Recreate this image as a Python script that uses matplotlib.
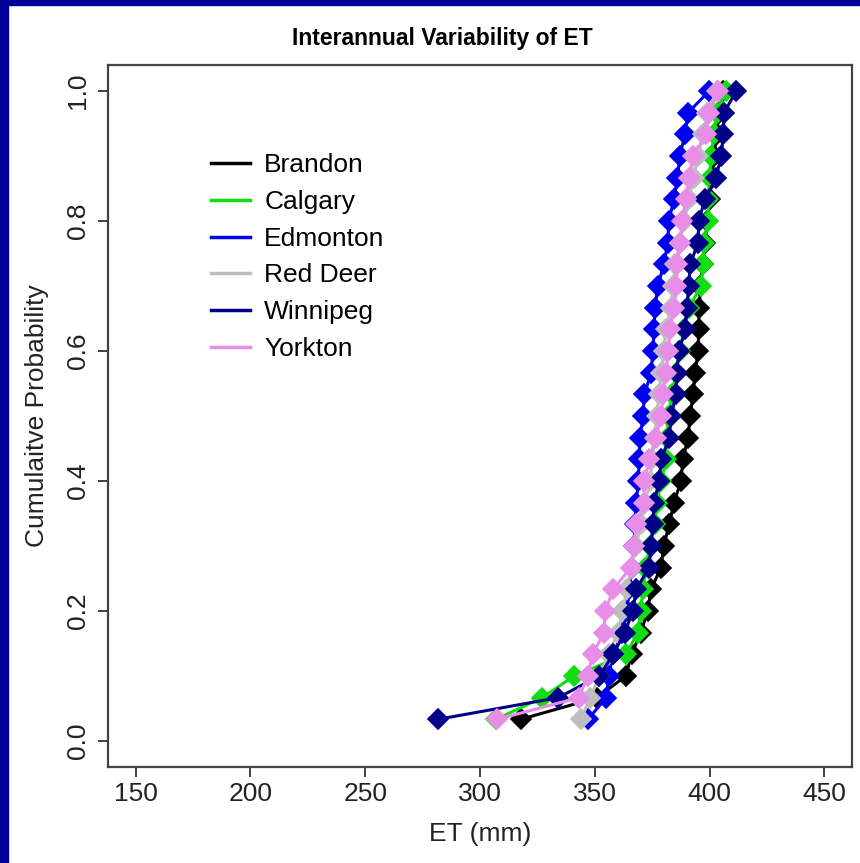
import numpy as np
import matplotlib
matplotlib.use('Agg')
import matplotlib.pyplot as plt
from matplotlib.patches import Rectangle

plt.rcParams['font.family'] = ['Liberation Sans', 'DejaVu Sans']

stations = ['Brandon', 'Calgary', 'Edmonton', 'Red Deer', 'Winnipeg', 'Yorkton']
colors = ['black', '#11DD11', '#0000EE', '#BEBEBE', '#000088', '#E88EE8']

# sorted annual ET (mm) per station
brandon = [317.7, 351, 363.5, 366, 370, 373, 374.5, 378.8, 380, 382.4,
           384.5, 387.5, 388.4, 390.6, 391.5, 392.8, 393.7, 395, 395.2, 395.5,
           396, 397, 398, 399, 400, 401, 402, 403, 404, 406]
calgary = [307, 327, 341, 363.5, 368.8, 370, 371, 372, 374, 376,
           377, 379, 381, 381.5, 382, 383.5, 385.4, 387, 389, 391,
           396.3, 397.2, 397.6, 399.3, 399.5, 400, 400.5, 402, 403, 407]
edmonton = [347, 355, 356, 358, 362, 364, 365, 366, 367, 367.5,
            368, 369, 369.3, 369.7, 371, 371.6, 374.5, 375.3, 375.8, 376.2,
            377.5, 380, 381.8, 382.2, 384.5, 386, 387, 389.3, 390.6, 399.8]
red_deer = [344, 348, 352, 356, 360, 362, 364, 366, 368, 370,
            372, 374, 375, 376, 377, 378, 379, 380, 381, 383,
            384, 385, 387, 389, 391, 393, 395, 397, 399, 403]
winnipeg = [281.7, 334, 352, 358, 363, 366.6, 368, 373.6, 374.5, 375.3,
            375.8, 378, 378.9, 382.4, 383.3, 385.4, 385.6, 386.7, 389.3, 390,
            391, 391.5, 395, 395.2, 398, 402.8, 405, 406, 406.3, 411.6]
yorkton = [307.5, 343, 347, 349, 354, 354.5, 358, 365.6, 367, 368,
           371.4, 371.6, 373.6, 376.6, 378.9, 379.7, 381, 382, 382.7, 384.5,
           385.5, 386, 387, 388, 389.7, 391, 392.8, 398.5, 399.8, 403.7]

series = [brandon, calgary, edmonton, red_deer, winnipeg, yorkton]

fig = plt.figure(figsize=(8.6, 8.63), dpi=100)
fig.patch.set_facecolor('white')
# navy frame strips (top and left)
fig.patches.append(Rectangle((0, 1 - 5 / 863), 1, 5 / 863, transform=fig.transFigure,
                             color='#000099', zorder=0))
fig.patches.append(Rectangle((0, 0), 8 / 860, 1, transform=fig.transFigure,
                             color='#000099', zorder=0))

ax = fig.add_axes([108 / 860, 1 - 767 / 863, 744 / 860, 702 / 863])

for name, vals, col in zip(stations, series, colors):
    vals = np.sort(vals)
    prob = np.arange(1, len(vals) + 1) / len(vals)
    ax.plot(vals, prob, color=col, lw=2.2, marker='D', markersize=10,
            markerfacecolor=col, markeredgecolor=col, markeredgewidth=1.2,
            label=name)

ax.set_xlim(138, 462)
ax.set_ylim(-0.04, 1.04)
ax.set_xticks([150, 200, 250, 300, 350, 400, 450])
ax.set_yticks([0.0, 0.2, 0.4, 0.6, 0.8, 1.0])
ax.set_yticklabels(['0.0', '0.2', '0.4', '0.6', '0.8', '1.0'])
ax.tick_params(length=7, width=1.3, color='#333333', labelsize=19,
               labelcolor='#222222')
ax.tick_params(axis='x', pad=4)
ax.tick_params(axis='y', pad=6)
plt.setp(ax.get_yticklabels(), rotation=90, va='center')
for s in ax.spines.values():
    s.set_color('#444444')
    s.set_linewidth(1.6)

ax.set_xlabel('ET (mm)', fontsize=19, color='#222222', labelpad=11)
ax.set_ylabel('Cumulaitve Probability', fontsize=19, color='#222222', labelpad=12)

fig.text(442 / 860, 1 - 38 / 863, 'Interannual Variability of ET',
         ha='center', va='center', fontsize=16.5, fontweight='bold')

handles = [plt.Line2D([], [], color=c, lw=2.5) for c in colors]
ax.legend(handles, stations, loc='upper left', bbox_to_anchor=(0.139, 0.874),
          frameon=False, fontsize=19, handlelength=1.45, handletextpad=0.55,
          labelspacing=0.48, borderpad=0, borderaxespad=0)

fig.savefig('out.png', dpi=100)
